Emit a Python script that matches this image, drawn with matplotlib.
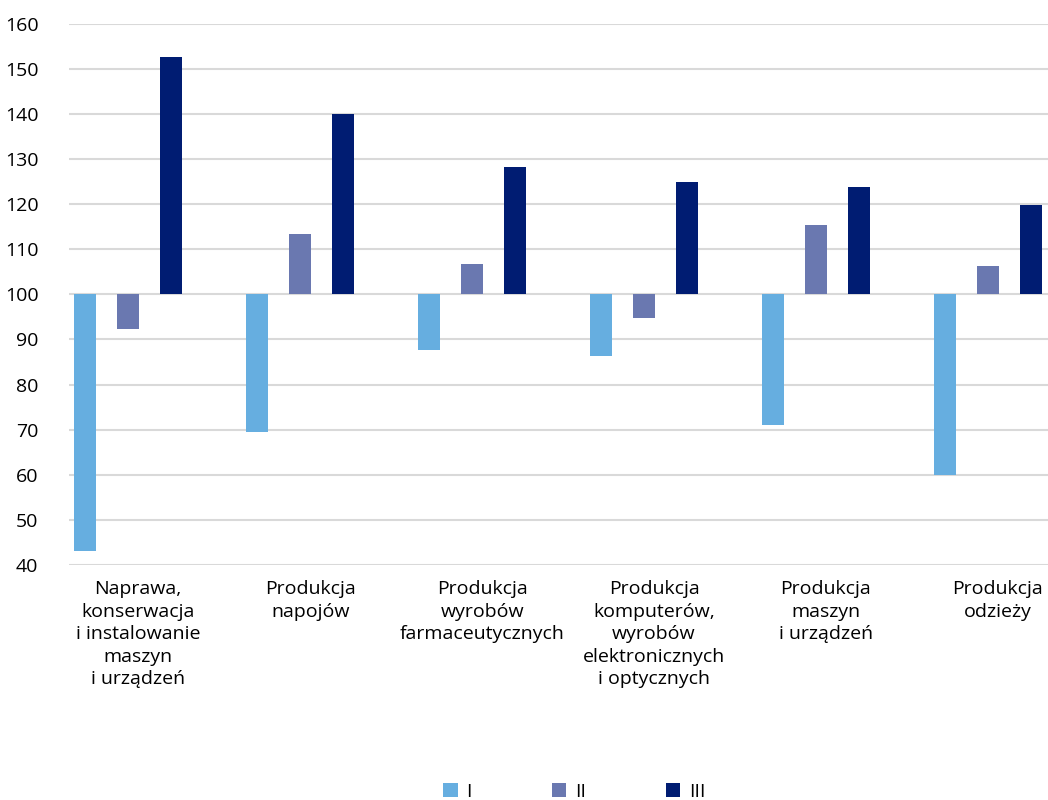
import matplotlib.pyplot as plt
import numpy as np

kategorie = [
    'Naprawa,\nkonserwacja\ni instalowanie\nmaszyn\ni urządzeń',
    'Produkcja\nnapojów',
    'Produkcja\nwyrobów\nfarmaceutycznych',
    'Produkcja\nkomputerów,\nwyrobów\nelektronicznych\ni optycznych',
    'Produkcja\nmaszyn\ni urządzeń',
    'Produkcja\nodzieży',
]
seria_I = [43.0, 69.5, 87.6, 86.3, 71.1, 60.0]
seria_II = [92.3, 113.4, 106.8, 94.8, 115.4, 106.3]
seria_III = [152.7, 140.0, 128.3, 125.0, 123.8, 119.9]
nazwy = ['I', 'II', 'III']
kolory = ['#66AEE0', '#6A78B0', '#001C72']

plt.rcParams['font.family'] = ['Open Sans', 'DejaVu Sans']

fig = plt.figure(figsize=(10.48, 8), dpi=100)
ax = fig.add_axes([0.0658, 0.294, 0.934, 0.676])

x = np.arange(len(kategorie))
szer = 0.128
krok = 0.25
for i, (dane, nazwa, kol) in enumerate(zip([seria_I, seria_II, seria_III], nazwy, kolory)):
    wys = [v - 100 for v in dane]
    ax.bar(x + (i - 1) * krok, wys, width=szer, bottom=100, color=kol, label=nazwa, zorder=3)

ax.set_ylim(40, 160)
ax.set_yticks(range(40, 161, 10))
ax.set_xlim(-0.343, 5.35)
ax.set_xticks(x + 0.06)
ax.set_xticklabels(kategorie, fontsize=14, linespacing=1.32)
ax.tick_params(axis='y', labelsize=14, length=0, pad=22)
ax.tick_params(axis='x', length=0, pad=11)
ax.grid(axis='y', color='#D9D9D9', linewidth=1.5, zorder=0)
for s in ax.spines.values():
    s.set_visible(False)

fig.legend(loc='center', bbox_to_anchor=(0.548, 0.01), ncol=3, frameon=False,
           fontsize=14, handlelength=0.75, handleheight=0.75, handletextpad=0.45,
           columnspacing=4.1)

fig.savefig('out.png', dpi=100)
